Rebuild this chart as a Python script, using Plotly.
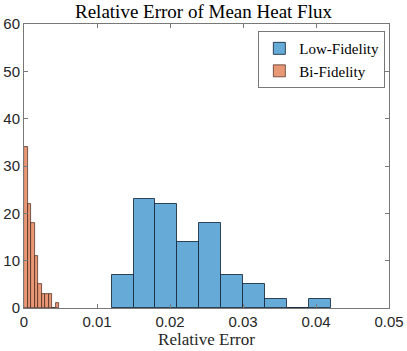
import plotly.graph_objects as go

# low-fidelity histogram (bin start, bin width, counts)
lf_start = 0.012
lf_width = 0.003
lf_counts = [7, 23, 22, 14, 18, 7, 5, 2, 0, 2]

# bi-fidelity histogram
bf_start = 0.0
bf_width = 0.00048
bf_counts = [34, 22, 18, 11, 5, 3, 3, 3, 0, 1]

x_ticks = [0, 0.01, 0.02, 0.03, 0.04, 0.05]
x_labels = ["0", "0.01", "0.02", "0.03", "0.04", "0.05"]
y_ticks = [0, 10, 20, 30, 40, 50, 60]

serif = "Liberation Serif"
sans = "Liberation Sans"
axcol = "rgb(120,120,120)"


def centers(start, width, counts):
    return [start + width * (i + 0.5) for i in range(len(counts))]


fig = go.Figure()
fig.add_trace(go.Bar(
    x=centers(lf_start, lf_width, lf_counts), y=lf_counts, width=lf_width,
    name="Low-Fidelity",
    marker=dict(color="rgb(102,170,215)", line=dict(color="rgba(20,40,60,0.85)", width=1)),
))
fig.add_trace(go.Bar(
    x=centers(bf_start, bf_width, bf_counts), y=bf_counts, width=bf_width,
    name="Bi-Fidelity",
    marker=dict(color="rgb(232,152,117)", line=dict(color="rgba(60,30,20,0.85)", width=0.8)),
))

fig.update_layout(
    width=407, height=351,
    margin=dict(l=24, r=18, t=24, b=43),
    paper_bgcolor="white", plot_bgcolor="white",
    barmode="overlay", bargap=0,
    showlegend=True,
    title=dict(text="Relative Error of Mean Heat Flux", x=0.5, xanchor="center",
               y=1 - 11 / 351, yanchor="middle",
               font=dict(family=serif, size=19, color="black")),
    legend=dict(x=0.99, xanchor="right", y=0.975, yanchor="top",
                bgcolor="white", bordercolor=axcol, borderwidth=1,
                font=dict(family=serif, size=15, color="black"),
                itemwidth=30, tracegroupgap=0),
)
fig.update_xaxes(
    range=[0, 0.05], tickvals=x_ticks, ticktext=x_labels,
    ticks="inside", ticklen=4, tickcolor=axcol,
    showline=True, linecolor=axcol, linewidth=1, mirror="allticks",
    showgrid=False, zeroline=False, automargin=False,
    tickfont=dict(family=sans, size=15, color="rgb(38,38,38)"),
    title=dict(text="Relative Error", standoff=4,
               font=dict(family=serif, size=17, color="rgb(38,38,38)")),
)
fig.update_yaxes(
    range=[0, 60], tickvals=y_ticks,
    ticks="inside", ticklen=4, tickcolor=axcol,
    showline=True, linecolor=axcol, linewidth=1, mirror="allticks",
    showgrid=False, zeroline=False, automargin=False,
    tickfont=dict(family=sans, size=15, color="rgb(38,38,38)"),
)

# page body has a default margin, drop it so the figure sits at 0,0
fig.write_html("out.html", config={"displayModeBar": False},
               post_script="document.body.style.margin='0px';")
